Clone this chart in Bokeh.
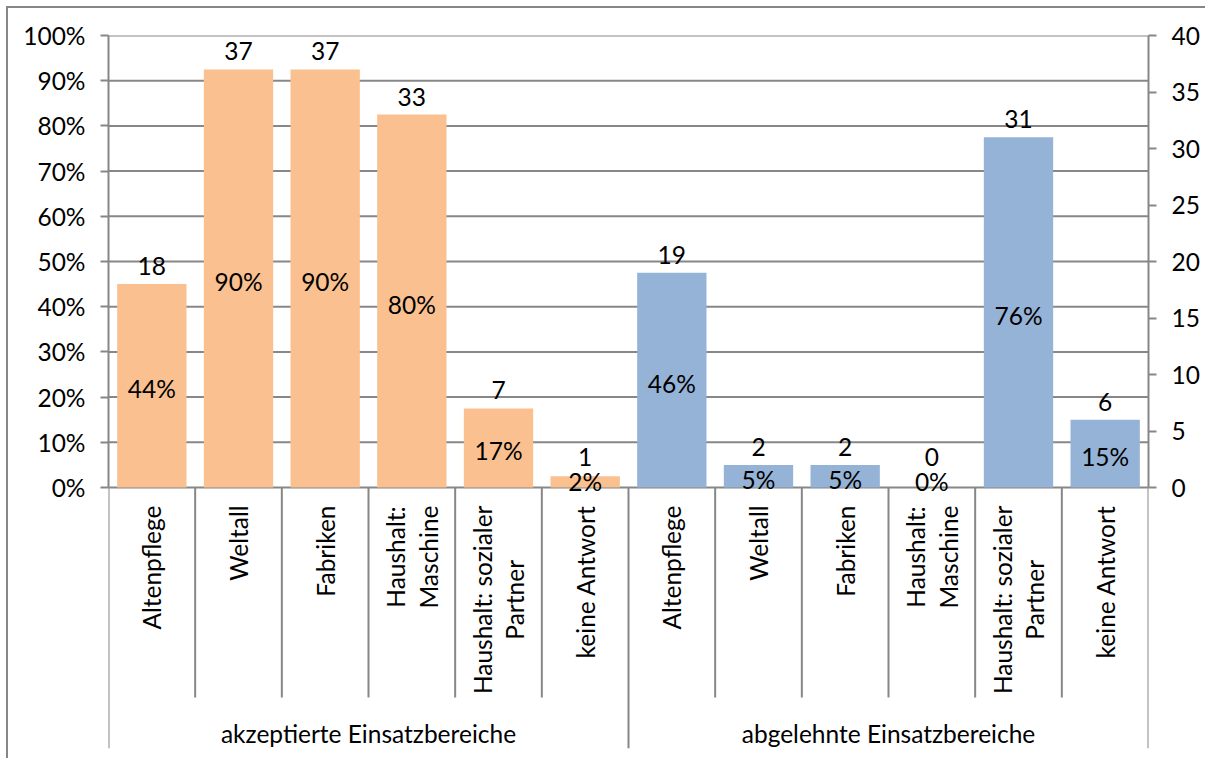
import math

from bokeh.core.properties import value
from bokeh.embed import file_html
from bokeh.models import FixedTicker, LinearAxis, NumeralTickFormatter, Range1d
from bokeh.plotting import figure
from bokeh.resources import INLINE

# --- data -------------------------------------------------------------
categories = ["Altenpflege", "Weltall", "Fabriken", "Haushalt:\nMaschine",
              "Haushalt: sozialer\nPartner", "keine Antwort"]
groups = ["akzeptierte Einsatzbereiche", "abgelehnte Einsatzbereiche"]
accepted_counts = [18, 37, 37, 33, 7, 1]
rejected_counts = [19, 2, 2, 0, 31, 6]
accepted_pct = ["44%", "90%", "90%", "80%", "17%", "2%"]
rejected_pct = ["46%", "5%", "5%", "0%", "76%", "15%"]
pct_ticks = [0, 0.1, 0.2, 0.3, 0.4, 0.5, 0.6, 0.7, 0.8, 0.9, 1.0]
count_ticks = [0, 5, 10, 15, 20, 25, 30, 35, 40]

# --- layout constants (pixels) -----------------------------------------
EDGE = 8                                 # chart-area border offset
FRAME_W, FRAME_H_AXIS = 1040, 452        # plot area above the baseline
BELOW = 261                              # category band below the baseline
LEFT, RIGHT, TOP, BOTTOM = 108 - EDGE, 65 - EDGE, 35 - EDGE, 10
GRAY = "#878787"
FONT = "Lato"
FS = "24.5px"
ORANGE, BLUE = "#FAC090", "#95B3D7"

px = 1.0 / FRAME_H_AXIS                  # one pixel in percent units
y_min = -BELOW * px
count_max = count_ticks[-1]

counts = accepted_counts + rejected_counts
pcts = accepted_pct + rejected_pct
labels = categories + categories
colors = [ORANGE] * len(accepted_counts) + [BLUE] * len(rejected_counts)
n = len(counts)
centers = [i + 0.5 for i in range(n)]

p = figure(width=LEFT + FRAME_W + RIGHT, height=TOP + FRAME_H_AXIS + BELOW + BOTTOM,
           x_range=Range1d(0, n), y_range=Range1d(y_min, 1.0),
           x_axis_location=None, y_axis_location=None,
           output_backend="svg", toolbar_location=None,
           min_border_left=LEFT, min_border_right=RIGHT,
           min_border_top=TOP, min_border_bottom=BOTTOM)
p.frame_width = FRAME_W
p.frame_height = FRAME_H_AXIS + BELOW
p.outline_line_color = None
p.background_fill_color = "white"
p.border_fill_color = "white"
p.extra_y_ranges = {"n": Range1d(y_min * count_max, count_max)}
p.styles = {"margin-left": "6px", "margin-top": "6px",
            "border-left": f"2px solid {GRAY}", "border-top": f"2px solid {GRAY}"}


def style_axis(ax):
    ax.axis_line_color = GRAY
    ax.axis_line_width = 2
    ax.major_tick_line_color = GRAY
    ax.major_tick_line_width = 2
    ax.major_tick_out = 8
    ax.major_tick_in = 0
    ax.minor_tick_line_color = None
    ax.major_label_standoff = 15
    ax.major_label_text_font = FONT
    ax.major_label_text_font_size = FS
    ax.major_label_text_color = "black"


left_axis = LinearAxis(ticker=FixedTicker(ticks=pct_ticks),
                       formatter=NumeralTickFormatter(format="0%"), bounds=(0, 1))
style_axis(left_axis)
p.add_layout(left_axis, "left")

right_axis = LinearAxis(y_range_name="n", ticker=FixedTicker(ticks=count_ticks),
                        bounds=(0, count_max))
style_axis(right_axis)
p.add_layout(right_axis, "right")

# horizontal gridlines at each percent tick (0% doubles as the baseline)
p.xgrid.visible = False
p.ygrid.visible = False
p.segment(x0=[0] * len(pct_ticks), x1=[n] * len(pct_ticks), y0=pct_ticks, y1=pct_ticks,
          line_color=GRAY, line_width=2)

# bars on the count scale
p.vbar(x=centers, top=counts, width=0.8, bottom=0, y_range_name="n",
       fill_color=colors, line_color=None)

# count labels above the bars
count_y = [max(c, 1.1) for c in counts]
p.text(x=centers, y=count_y, text=[str(c) for c in counts], y_range_name="n",
       text_align="center", text_baseline="bottom", y_offset=-9,
       text_font=value(FONT), text_font_size=FS, text_color="black")

# percentage labels centred inside the bars
pct_y = [max(c / 2, 0.8) for c in counts]
p.text(x=centers, y=pct_y, text=pcts, y_range_name="n",
       text_align="center", text_baseline="middle", y_offset=3,
       text_font=value(FONT), text_font_size=FS, text_color="black")

# category band: separators between the categories
inner_bottom = -210 * px
inner = [i for i in range(1, n) if i != len(categories)]
outer = [0, len(categories), n]
p.segment(x0=inner, x1=inner, y0=[0] * len(inner), y1=[inner_bottom] * len(inner),
          line_color=GRAY, line_width=2)
p.segment(x0=outer, x1=outer, y0=[0] * len(outer), y1=[y_min] * len(outer),
          line_color=GRAY, line_width=2)

# rotated category names
p.text(x=centers, y=[-18 * px] * n, text=labels, angle=math.pi / 2,
       anchor="center_right", text_align="center", text_line_height=1.12,
       text_font=value(FONT), text_font_size=FS, text_color="black")

# group names
half = len(categories)
p.text(x=[half / 2, half + half / 2], y=[-246 * px] * 2, text=groups,
       text_align="center", text_baseline="middle",
       text_font=value(FONT), text_font_size=FS, text_color="black")

open("out.html", "w").write(file_html(p, INLINE))
